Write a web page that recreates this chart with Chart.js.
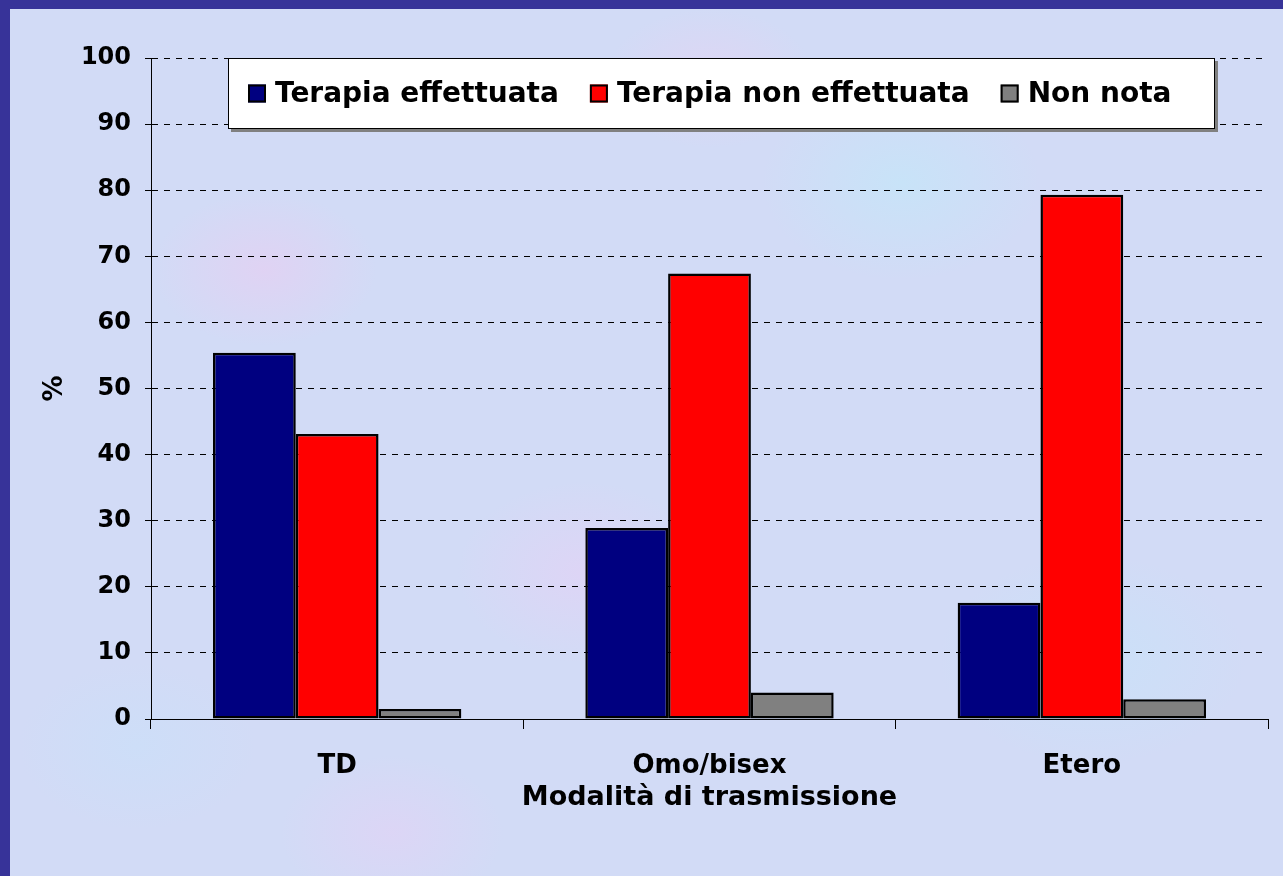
<!DOCTYPE html>
<html>
<head>
<meta charset="utf-8">
<script src="https://cdn.jsdelivr.net/npm/chart.js@4.4.1/dist/chart.umd.min.js"></script>
<style>
html,body{margin:0;padding:0;width:1283px;height:876px;overflow:hidden;background:#373399;}
#wrap{position:absolute;left:10px;top:9px;width:1273px;height:867px;
 background:
  radial-gradient(ellipse 160px 110px at 20% 30%, rgba(240,200,240,0.45), rgba(240,200,240,0) 70%),
  radial-gradient(ellipse 200px 140px at 70% 20%, rgba(190,235,250,0.5), rgba(190,235,250,0) 70%),
  radial-gradient(ellipse 180px 130px at 45% 65%, rgba(235,205,245,0.45), rgba(235,205,245,0) 70%),
  radial-gradient(ellipse 220px 150px at 85% 75%, rgba(195,230,250,0.5), rgba(195,230,250,0) 70%),
  radial-gradient(ellipse 170px 120px at 10% 85%, rgba(200,225,250,0.5), rgba(200,225,250,0) 70%),
  radial-gradient(ellipse 150px 100px at 55% 8%, rgba(240,205,240,0.4), rgba(240,205,240,0) 70%),
  radial-gradient(ellipse 160px 110px at 30% 95%, rgba(235,205,245,0.4), rgba(235,205,245,0) 70%),
  #d2dbf6;}
canvas{display:block;}
</style>
</head>
<body>
<div id="wrap"><canvas id="c" width="1273" height="867"></canvas></div>
<script>
const categories = ["TD", "Omo/bisex", "Etero"];
const seriesNames = ["Terapia effettuata", "Terapia non effettuata", "Non nota"];
const terapiaEffettuata = [55.4, 28.9, 17.6];
const terapiaNonEffettuata = [43.1, 67.4, 79.3];
const nonNota = [1.5, 4.0, 3.0];
const seriesColors = ["#000080", "#ff0000", "#808080"];
const yTitle = "%";
const xTitle = "Modalità di trasmissione";

const FONT = '"DejaVu Sans", Verdana, sans-serif';

const legendBox = {
  id: 'legendBox',
  afterDraw(chart) {
    const {ctx, chartArea: a} = chart;
    const x = a.left + 77, y = a.top, w = (a.right - 53) - x, h = 71;
    ctx.save();
    ctx.fillStyle = '#808080';
    ctx.fillRect(x + 3, y + 3, w, h);
    ctx.fillStyle = '#ffffff';
    ctx.fillRect(x, y, w, h);
    ctx.strokeStyle = '#000';
    ctx.lineWidth = 1;
    ctx.strokeRect(x + 0.5, y + 0.5, w - 1, h - 1);
    ctx.font = 'bold 28px ' + FONT;
    ctx.textBaseline = 'middle';
    ctx.textAlign = 'left';
    let cx = x + 20;
    const cy = y + h / 2;
    chart.data.datasets.forEach(ds => {
      ctx.fillStyle = ds.backgroundColor;
      ctx.fillRect(cx, cy - 9, 18, 18);
      ctx.lineWidth = 2;
      ctx.strokeStyle = '#000';
      ctx.strokeRect(cx + 1, cy - 8, 16, 16);
      ctx.fillStyle = '#000';
      ctx.fillText(ds.label, cx + 27, cy + 1);
      cx += 27 + ctx.measureText(ds.label).width + 31;
    });
    ctx.restore();
  }
};

const values = [terapiaEffettuata, terapiaNonEffettuata, nonNota];

new Chart(document.getElementById('c'), {
  type: 'bar',
  data: {
    labels: categories,
    datasets: seriesNames.map((n, i) => ({
      label: n,
      data: values[i],
      backgroundColor: seriesColors[i],
      borderColor: '#000',
      borderWidth: 2.5,
      borderSkipped: false,
      categoryPercentage: 0.667,
      barPercentage: 1.0
    }))
  },
  options: {
    responsive: false,
    animation: false,
    layout: {padding: {top: 49, right: 15, left: 0, bottom: 0}},
    plugins: {legend: {display: false}, tooltip: {enabled: false}},
    scales: {
      x: {
        afterFit(s) { s.height = 157; },
        grid: {display: true, drawOnChartArea: false, drawTicks: true, tickLength: 10, color: '#000', lineWidth: 1},
        border: {display: true, color: '#000', width: 1},
        ticks: {color: '#000', font: {family: FONT, size: 26, weight: 'bold'}, padding: 22, maxRotation: 0},
        title: {display: true, text: xTitle, color: '#000', font: {family: FONT, size: 27, weight: 'bold'}, padding: {top: 0, bottom: 62}}
      },
      y: {
        min: 0, max: 100,
        afterFit(s) { s.width = 141; },
        grid: {color: '#000', lineWidth: 1, drawTicks: true, tickLength: 6, tickColor: '#000'},
        border: {display: true, color: '#000', width: 1, dash: [6, 6]},
        ticks: {stepSize: 10, color: '#000', font: {family: FONT, size: 24, weight: 'bold'}, padding: 14},
        title: {display: true, text: yTitle, color: '#000', font: {family: FONT, size: 26, weight: 'bold'}, padding: {top: 30, bottom: 0}}
      }
    }
  },
  plugins: [legendBox]
});
</script>
</body>
</html>
